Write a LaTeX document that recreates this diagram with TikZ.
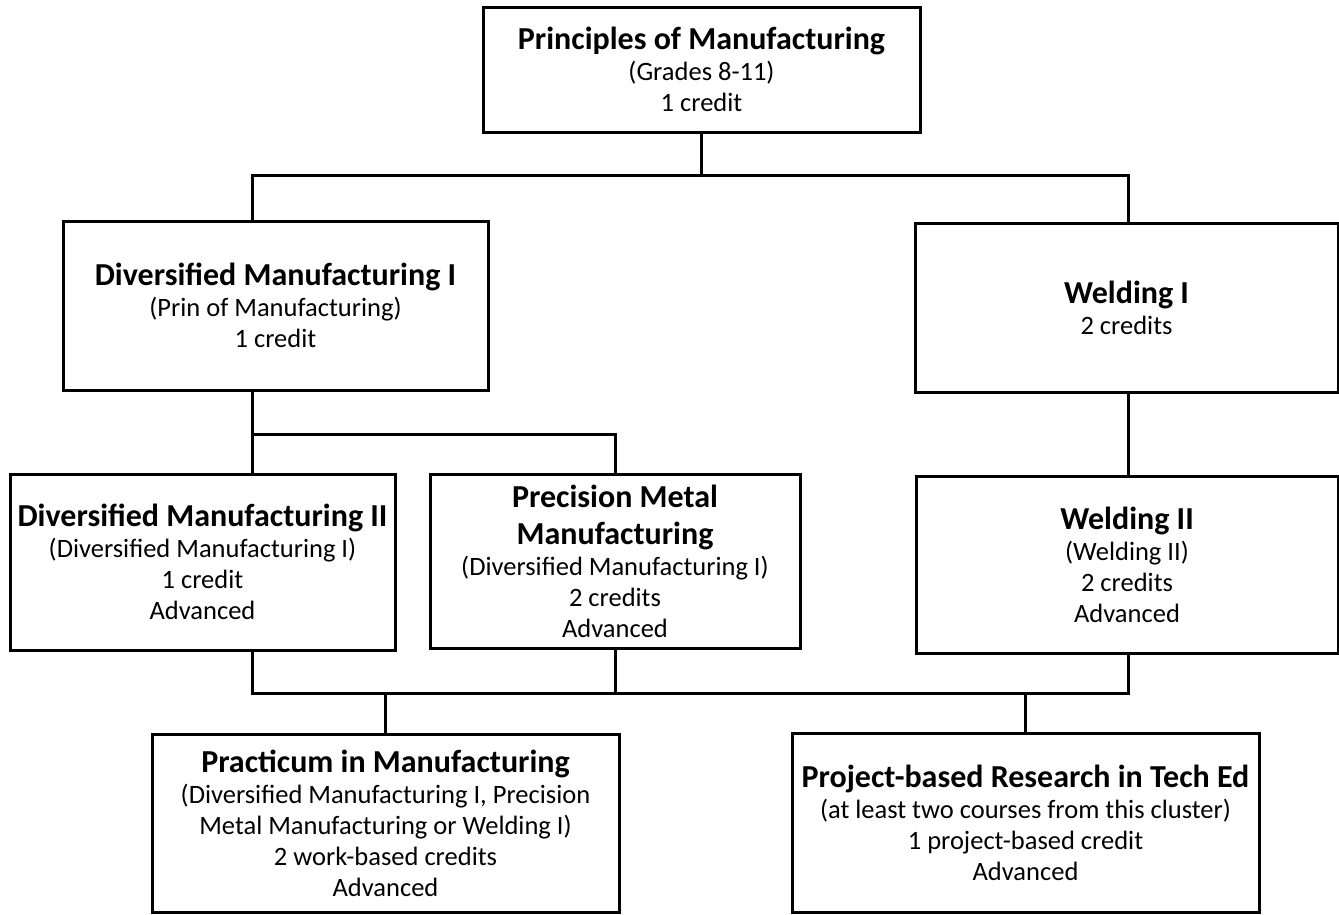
\documentclass[tikz,border=0pt]{standalone}
\usepackage{fontspec}
\setmainfont{Carlito}
\newcommand{\kurs}[1]{{\bfseries\fontsize{32}{36}\selectfont #1}}
\tikzset{
	course/.style={draw, line width=3pt, inner sep=0pt, align=center,
		font=\fontsize{26.5}{31}\selectfont},
	link/.style={line width=3pt}
}
\begin{document}
\begin{tikzpicture}[x=1pt, y=-1pt]
	\useasboundingbox (0,0) rectangle (1339,914);
	%%Kurse
	\node[course, minimum width=437pt, minimum height=125pt] (prin) at (701.5,69.5)
		{\kurs{Principles of Manufacturing}\\(Grades 8-11)\\1 credit};
	\node[course, minimum width=425pt, minimum height=169pt] (divone) at (275.5,305.5)
		{\kurs{Diversified Manufacturing I}\\(Prin of Manufacturing)\\1 credit};
	\node[course, minimum width=423pt, minimum height=169pt] (weldone) at (1126.5,307.5)
		{\kurs{Welding I}\\2 credits};
	\node[course, minimum width=385pt, minimum height=176pt] (divtwo) at (202.5,562)
		{\kurs{Diversified Manufacturing II}\\(Diversified Manufacturing I)\\1 credit\\Advanced};
	\node[course, minimum width=370pt, minimum height=174pt] (prec) at (615,561)
		{\kurs{Precision Metal}\\[6pt]\kurs{Manufacturing}\\(Diversified Manufacturing I)\\2 credits\\Advanced};
	\node[course, minimum width=422pt, minimum height=177pt] (weldtwo) at (1127,564.5)
		{\kurs{Welding II}\\(Welding II)\\2 credits\\Advanced};
	\node[course, minimum width=467pt, minimum height=178pt] (prac) at (385.5,823)
		{\kurs{Practicum in Manufacturing}\\(Diversified Manufacturing I, Precision\\Metal Manufacturing or Welding I)\\2 work-based credits\\Advanced};
	\node[course, minimum width=467pt, minimum height=179pt] (proj) at (1025.5,822.5)
		{\kurs{Project-based Research in Tech Ed}\\(at least two courses from this cluster)\\1 project-based credit\\Advanced};
	%%Knotenpunkte
	\coordinate (ja) at (252,175);
	\coordinate (jb) at (1128,175);
	\coordinate (jc) at (252,434);
	\coordinate (jd) at (615,434);
	\coordinate (je) at (252,693);
	\coordinate (jf) at (1128,693);
	%%Verbindungen
	\draw[link] (prin.south) -- (prin.south |- ja);
	\draw[link] (ja |- divone.north) -- (ja) -- (jb) -- (jb |- weldone.north);
	\draw[link] (jc |- divone.south) -- (jc |- divtwo.north);
	\draw[link] (jc) -- (jd) -- (prec.north);
	\draw[link] (jb |- weldone.south) -- (jb |- weldtwo.north);
	\draw[link] (je |- divtwo.south) -- (je) -- (jf) -- (jf |- weldtwo.south);
	\draw[link] (prec.south) -- (prec.south |- je);
	\draw[link] (prac.north) -- (prac.north |- je);
	\draw[link] (proj.north) -- (proj.north |- je);
\end{tikzpicture}
\end{document}
